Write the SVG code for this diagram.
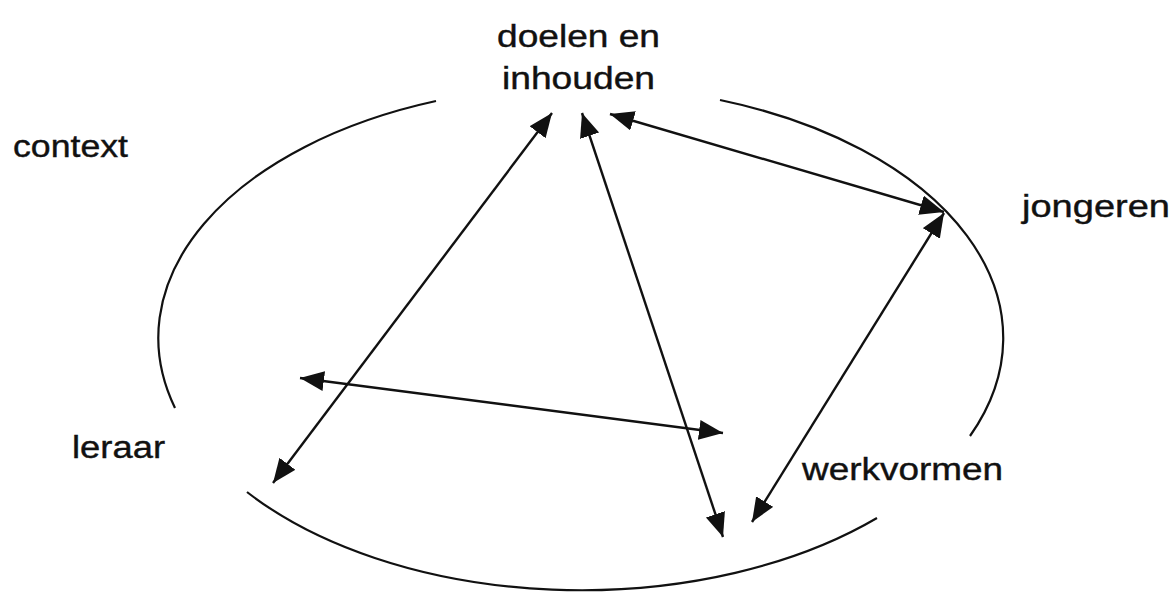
<svg xmlns="http://www.w3.org/2000/svg" width="1175" height="592" viewBox="0 0 1175 592">
<style>
.lbl{font-family:"Liberation Sans",Arial,sans-serif;font-size:31px;fill:#111;stroke:#111;stroke-width:0.4}
.arc{fill:none;stroke:#111;stroke-width:2.2}
.con{fill:none;stroke:#111;stroke-width:2.4;marker-start:url(#ah);marker-end:url(#ah)}
</style>
<defs>
<marker id="ah" markerUnits="userSpaceOnUse" markerWidth="26" markerHeight="22" refX="24" refY="10" orient="auto-start-reverse">
<path d="M0,0 L24,10 L0,20 z" fill="#111"/>
</marker>
</defs>
<rect width="1175" height="592" fill="#fff"/>
<g id="context-ring">
<path class="arc" d="M436,101 A422,252 0 0 0 175,408"/>
<path class="arc" d="M720,100 A422,252 0 0 1 970,436"/>
<path class="arc" d="M247,492 A422,252 0 0 0 877,518"/>
</g>
<g id="node-doelen"><text class="lbl" x="497" y="47" textLength="163" lengthAdjust="spacingAndGlyphs">doelen en</text><text class="lbl" x="502" y="89" textLength="153" lengthAdjust="spacingAndGlyphs">inhouden</text></g>
<g id="node-context"><text class="lbl" x="13" y="157" textLength="115" lengthAdjust="spacingAndGlyphs">context</text></g>
<g id="node-jongeren"><text class="lbl" x="1022" y="217" textLength="148" lengthAdjust="spacingAndGlyphs">jongeren</text></g>
<g id="node-leraar"><text class="lbl" x="72" y="458" textLength="93" lengthAdjust="spacingAndGlyphs">leraar</text></g>
<g id="node-werkvormen"><text class="lbl" x="802" y="480" textLength="201" lengthAdjust="spacingAndGlyphs">werkvormen</text></g>
<g id="connectors">
<line class="con" x1="273" y1="483" x2="552" y2="113"/>
<line class="con" x1="582" y1="113" x2="723" y2="537"/>
<line class="con" x1="610" y1="114" x2="944" y2="212"/>
<line class="con" x1="944" y1="213" x2="752" y2="522"/>
<line class="con" x1="300" y1="378" x2="723" y2="433"/>
</g>
</svg>
